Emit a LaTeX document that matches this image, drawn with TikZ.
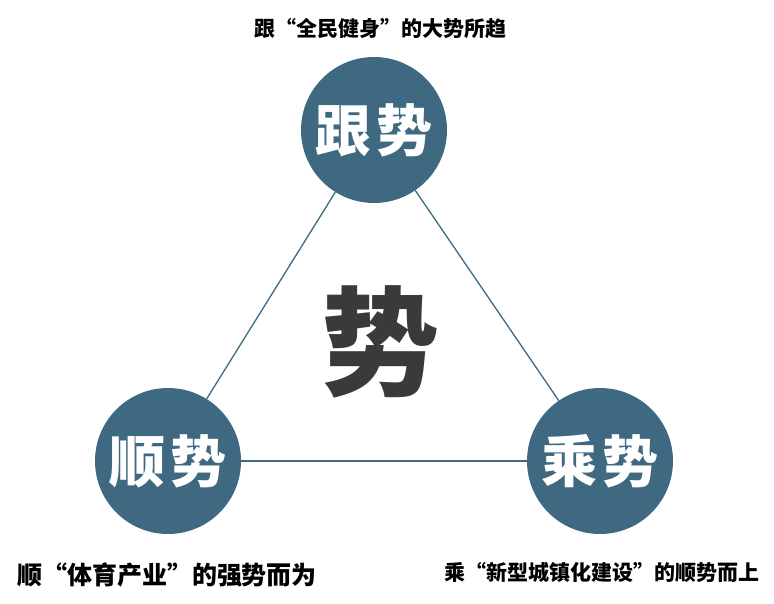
\documentclass[tikz,border=0pt]{standalone}
\usepackage{fontspec}
\newfontfamily\cjk{Noto Sans CJK SC}
\usetikzlibrary{positioning}
\definecolor{shiblue}{RGB}{63,105,128}
\definecolor{shigray}{RGB}{58,58,60}

\begin{document}
\begin{tikzpicture}[x=1pt,y=-1pt,every node/.style={inner sep=0pt}]
			\useasboundingbox (0,0) rectangle (774,603);
			\tikzset{shi/.style={circle,fill=shiblue,minimum size=146pt,text=white,font=\cjk\bfseries\fontsize{56}{56}\selectfont}}
			\node[shi] (gen) at (374,130) {跟\hspace{6pt}势};
			\node[shi] (shun) at (168,461) {顺\hspace{6pt}势};
			\node[shi] (cheng) at (600,461) {乘\hspace{6pt}势};
			\node[text=shigray,font=\cjk\bfseries\fontsize{118}{118}\selectfont] (shi) at (380,342) {势};

			\draw[shiblue,line width=1.3pt] (gen) -- (shun);
			\draw[shiblue,line width=1.3pt] (gen) -- (cheng);
			\draw[shiblue,line width=1.3pt] (shun) -- (cheng);

			\node[font=\cjk\bfseries\fontsize{21}{21}\selectfont] (genl) at (380,28) {跟“全民健身”的大势所趋};
			\node[font=\cjk\bfseries\fontsize{25}{25}\selectfont] (shunl) at (167,575) {顺“体育产业”的强势而为};
			\node[font=\cjk\bfseries\fontsize{21}{21}\selectfont] (chengl) at (602,572) {乘“新型城镇化建设”的顺势而上};
		\end{tikzpicture}
\end{document}
